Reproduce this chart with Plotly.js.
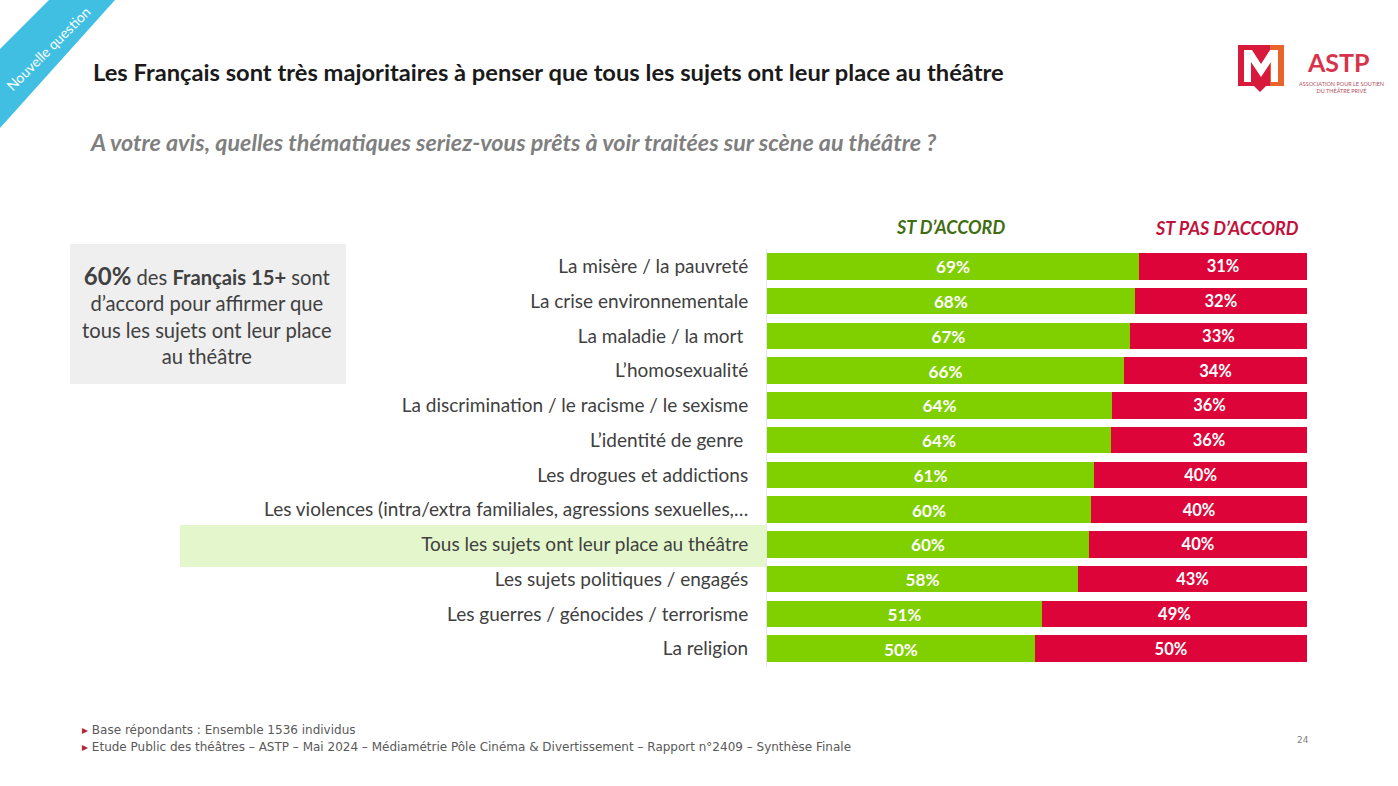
<!DOCTYPE html>
<html>
<head>
<meta charset="utf-8">
<script src="https://cdn.plot.ly/plotly-3.0.1.min.js"></script>
<style>html,body{margin:0;padding:0;background:#fff;}#chart{width:1398px;height:786px;}</style>
</head>
<body>
<div id="chart"></div>
<script>
const categories = [
  "La misère / la pauvreté",
  "La crise environnementale",
  "La maladie / la mort ",
  "L’homosexualité",
  "La discrimination / le racisme / le sexisme",
  "L’identité de genre ",
  "Les drogues et addictions",
  "Les violences (intra/extra familiales, agressions sexuelles,…",
  "Tous les sujets ont leur place au théâtre",
  "Les sujets politiques / engagés",
  "Les guerres / génocides / terrorisme",
  "La religion"
];
const agreeValues = [68.9, 68.1, 67.2, 66.1, 63.9, 63.7, 60.6, 60.0, 59.6, 57.6, 50.9, 49.6];
const disagreeValues = [31.1, 31.9, 32.8, 33.9, 36.1, 36.3, 39.4, 40.0, 40.4, 42.4, 49.1, 50.4];
const agreeLabels = ["69%","68%","67%","66%","64%","64%","61%","60%","60%","58%","51%","50%"];
const disagreeLabels = ["31%","32%","33%","34%","36%","36%","40%","40%","40%","43%","49%","50%"];

const W = 1398, H = 786;
const L = 767, R = 1307, T = 249, B = 666;
const px = x => (x - L) / (R - L);
const py = y => (B - y) / (B - T);

const FONT = "Lato, 'Open Sans', sans-serif";
const GREEN = "#80d000";
const RED = "#dc0438";

const traces = [
  {
    type: "bar", orientation: "h", name: "ST D’ACCORD",
    y: categories, x: agreeValues, text: agreeLabels,
    textposition: "inside", insidetextanchor: "middle", textangle: 0,
    texttemplate: "%{text}",
    textfont: {family: FONT, size: 21, color: "#ffffff", weight: "bold"},
    marker: {color: GREEN, line: {width: 0}},
    hoverinfo: "skip"
  },
  {
    type: "bar", orientation: "h", name: "ST PAS D’ACCORD",
    y: categories, x: disagreeValues, text: disagreeLabels,
    textposition: "inside", insidetextanchor: "middle", textangle: 0,
    texttemplate: "%{text}",
    textfont: {family: FONT, size: 16.5, color: "#ffffff", weight: "bold"},
    marker: {color: RED, line: {width: 0}},
    hoverinfo: "skip"
  }
];

function poly(pts){
  return "M" + pts.map(p => px(p[0]) + "," + py(p[1])).join(" L") + " Z";
}

const shapes = [
  // ribbon
  {type: "path", xref: "paper", yref: "paper", layer: "below",
   path: poly([[0,49],[49,0],[115,0],[0,128]]), fillcolor: "#41bfe3", line: {width: 0}},
  // highlighted row
  {type: "rect", xref: "paper", yref: "paper", layer: "below",
   x0: px(180), x1: px(767), y0: py(567), y1: py(525), fillcolor: "#e4f7cc", line: {width: 0}},
  // grey box
  {type: "rect", xref: "paper", yref: "paper", layer: "below",
   x0: px(70), x1: px(346), y0: py(384), y1: py(244), fillcolor: "#efefef", line: {width: 0}},
  // logo
  {type: "path", xref: "paper", yref: "paper", layer: "above",
   path: poly([[1238,45],[1284,45],[1284,86],[1266,86],[1260,92],[1254,86],[1238,86]]), fillcolor: "#d7193b", line: {width: 0}},
  {type: "path", xref: "paper", yref: "paper", layer: "above",
   path: poly([[1270,45],[1284,45],[1284,86],[1270,86]]), fillcolor: "#e8642a", line: {width: 0}},
  {type: "path", xref: "paper", yref: "paper", layer: "above",
   path: poly([[1244,82],[1244,50],[1252,50],[1261,64],[1270,50],[1278,50],[1278,82],[1271,82],[1271,62],[1261,77],[1251,62],[1251,82]]), fillcolor: "#ffffff", line: {width: 0}}
];

const annotations = [
  {xref: "paper", yref: "paper", x: px(48), y: py(48), xanchor: "center", yanchor: "middle",
   text: "Nouvelle question", textangle: -45,
   showarrow: false, font: {family: FONT, size: 14, color: "#ffffff"}},
  {xref: "paper", yref: "paper", x: px(91), y: py(72), xanchor: "left", yanchor: "middle",
   text: "<b>Les Français sont très majoritaires à penser que tous les sujets ont leur place au théâtre</b>",
   showarrow: false, font: {family: FONT, size: 23.7, color: "#1a1a1a"}},
  {xref: "paper", yref: "paper", x: px(88), y: py(142), xanchor: "left", yanchor: "middle",
   text: "<b><i>A votre avis, quelles thématiques seriez-vous prêts à voir traitées sur scène au théâtre ?</i></b>",
   showarrow: false, font: {family: FONT, size: 23.3, color: "#7f7f7f"}},
  {xref: "paper", yref: "paper", x: px(950), y: py(227), xanchor: "center", yanchor: "middle",
   text: "<b><i>ST D’ACCORD</i></b>", showarrow: false, font: {family: FONT, size: 18, color: "#3f6d12"}},
  {xref: "paper", yref: "paper", x: px(1227), y: py(228), xanchor: "center", yanchor: "middle",
   text: "<b><i>ST PAS D’ACCORD</i></b>", showarrow: false, font: {family: FONT, size: 18, color: "#c0133c"}},
  {xref: "paper", yref: "paper", x: px(207), y: py(314), xanchor: "center", yanchor: "middle", align: "center",
   text: "<span style='font-size:24px'><b>60%</b></span> des <b>Français 15+</b> sont<br>d’accord pour affirmer que<br>tous les sujets ont leur place<br>au théâtre",
   showarrow: false, font: {family: FONT, size: 20.2, color: "#404040"}},
  {xref: "paper", yref: "paper", x: px(1305), y: py(62), xanchor: "left", yanchor: "middle",
   text: "<b>ASTP</b>", showarrow: false, font: {family: FONT, size: 25, color: "#d7344c"}},
  {xref: "paper", yref: "paper", x: px(1341), y: py(88), xanchor: "center", yanchor: "middle",
   text: "ASSOCIATION POUR LE SOUTIEN<br>DU THÉÂTRE PRIVÉ", showarrow: false,
   font: {family: FONT, size: 5.5, color: "#b05060"}},
  {xref: "paper", yref: "paper", x: px(80), y: py(730), xanchor: "left", yanchor: "middle",
   text: "<span style='color:#b0243a'>▸</span> Base répondants : Ensemble 1536 individus",
   showarrow: false, font: {family: "'DejaVu Sans', sans-serif", size: 12, color: "#595959"}},
  {xref: "paper", yref: "paper", x: px(80), y: py(747), xanchor: "left", yanchor: "middle",
   text: "<span style='color:#b0243a'>▸</span> Etude Public des théâtres – ASTP – Mai 2024 – Médiamétrie Pôle Cinéma & Divertissement – Rapport n°2409 – Synthèse Finale",
   showarrow: false, font: {family: "'DejaVu Sans', sans-serif", size: 12, color: "#595959"}},
  {xref: "paper", yref: "paper", x: px(1303), y: py(740), xanchor: "center", yanchor: "middle",
   text: "24", showarrow: false, font: {family: "'DejaVu Sans', sans-serif", size: 9, color: "#7f7f7f"}}
];

const layout = {
  width: W, height: H,
  margin: {l: L, r: W - R, t: T, b: H - B, pad: 0},
  paper_bgcolor: "#ffffff", plot_bgcolor: "#ffffff",
  barmode: "stack", bargap: 0.24,
  showlegend: false,
  xaxis: {range: [0, 100], visible: false, fixedrange: true},
  yaxis: {
    type: "category", autorange: "reversed",
    showgrid: false, zeroline: false,
    showline: true, linecolor: "#e6e6e6", linewidth: 1,
    ticks: "", ticklabelstandoff: 14,
    tickfont: {family: FONT, size: 19, color: "#404040"},
    fixedrange: true
  },
  shapes: shapes,
  annotations: annotations,
  uniformtext: {mode: false}
};

Plotly.newPlot("chart", traces, layout, {displayModeBar: false, staticPlot: true});
</script>
</body>
</html>
